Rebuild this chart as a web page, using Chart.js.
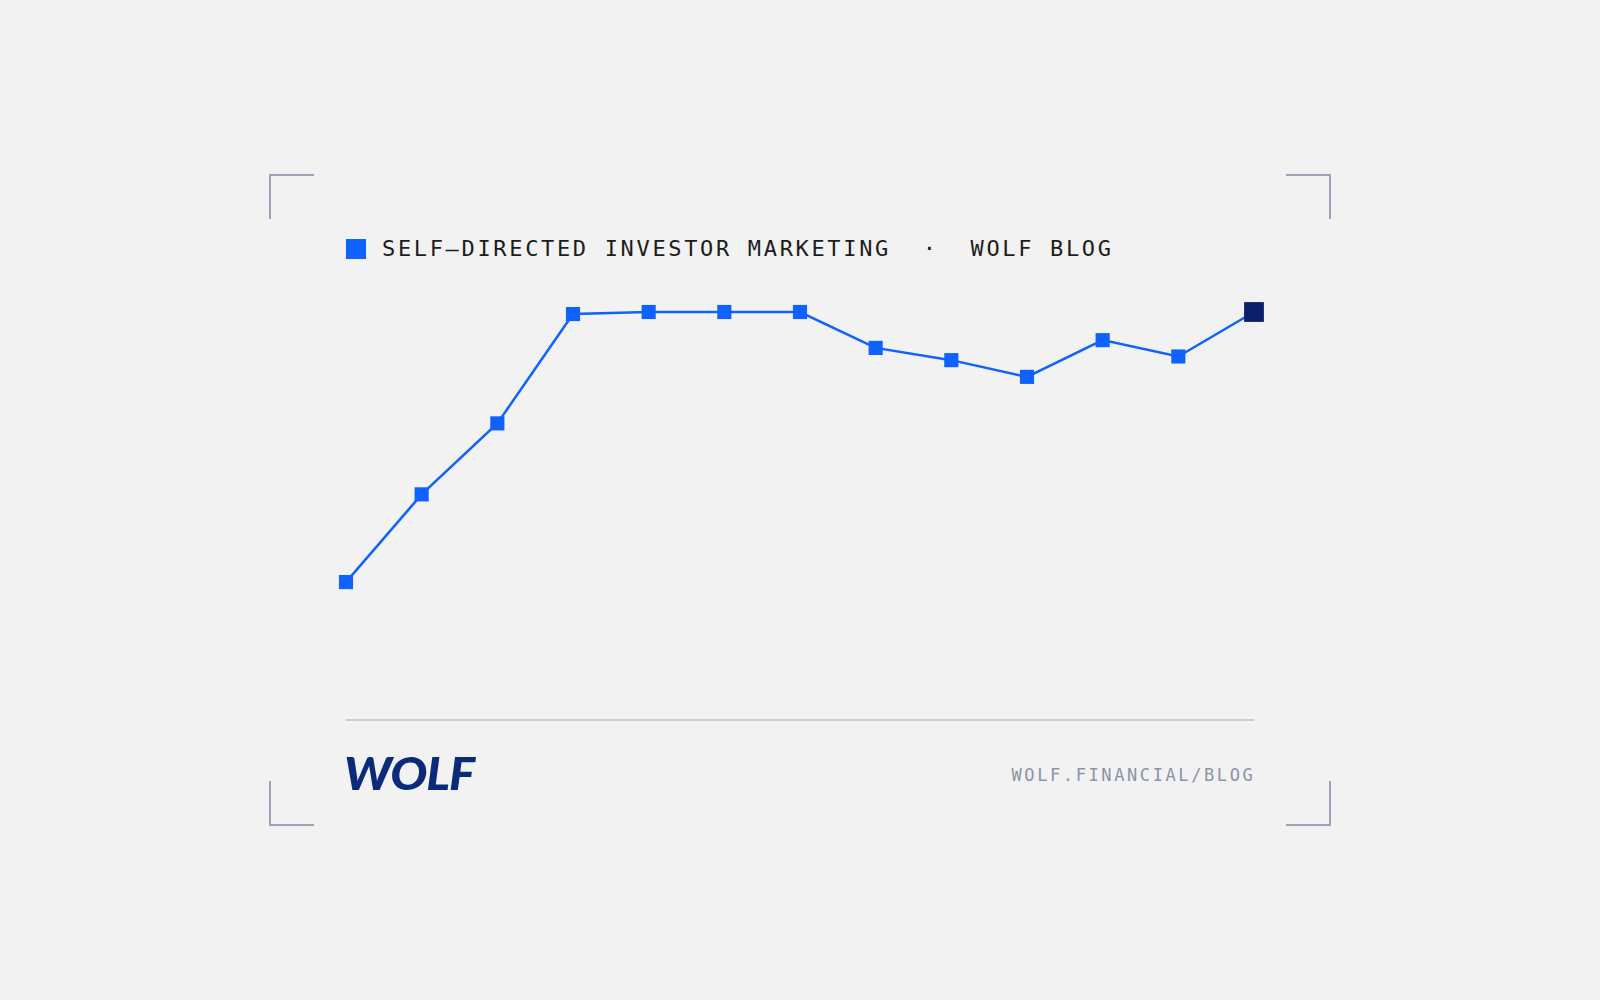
<!DOCTYPE html>
<html>
<head>
<meta charset="utf-8">
<script src="https://cdn.jsdelivr.net/npm/chart.js@4/dist/chart.umd.min.js"></script>
<style>
  html, body { margin: 0; padding: 0; background: #f2f2f2; width: 1600px; height: 1000px; overflow: hidden; }
  .abs { position: absolute; }
  .corner { position: absolute; width: 45px; height: 45px; box-sizing: border-box; border: 0 solid #9ba4b4; }
  #title { left: 382px; top: 238.2px; font-family: "DejaVu Sans Mono", "Liberation Mono", monospace; font-size: 22px; line-height: 22px; letter-spacing: 2.66px; color: #1c1c1c; white-space: pre; }
  #swatch { left: 346px; top: 239px; width: 20px; height: 20px; background: #0f62fe; }
  #divider { left: 346px; top: 719px; width: 908px; height: 2px; background: #c8ccd9; }
  #url { left: 1011.5px; top: 767px; font-family: "DejaVu Sans Mono", "Liberation Mono", monospace; font-size: 17px; line-height: 17px; letter-spacing: 2.6px; color: #8b93a7; white-space: pre; }
  #logo { left: 344px; top: 751px; font-family: "Lato", "Roboto", sans-serif; font-weight: 900; font-style: italic; font-size: 45px; line-height: 45px; color: #0b2a7a; white-space: pre; transform-origin: 0 0; letter-spacing: -1px; }
  #chartBox { left: 316px; top: 282px; width: 968px; height: 468px; }
</style>
</head>
<body>
<div class="corner" style="left:269px; top:174px; border-top-width:2px; border-left-width:2px;"></div>
<div class="corner" style="left:1286px; top:174px; border-top-width:2px; border-right-width:2px;"></div>
<div class="corner" style="left:269px; top:781px; border-bottom-width:2px; border-left-width:2px;"></div>
<div class="corner" style="left:1286px; top:781px; border-bottom-width:2px; border-right-width:2px;"></div>

<div id="swatch" class="abs"></div>
<div id="title" class="abs">SELF–DIRECTED INVESTOR MARKETING  ·  WOLF BLOG</div>

<div id="chartBox" class="abs"><canvas id="c"></canvas></div>

<div id="divider" class="abs"></div>
<div id="logo" class="abs">WOLF</div>
<div id="url" class="abs">WOLF.FINANCIAL/BLOG</div>

<script>
// ---- data ----
const periods = ["P1","P2","P3","P4","P5","P6","P7","P8","P9","P10","P11","P12","P13"];
const interest = [33.8, 55.3, 72.7, 99.5, 100, 100, 100, 91.2, 88.2, 84.1, 93.1, 89.1, 100];
const seriesName = "Self-directed investor marketing";
const yMin = 0;
const yMax = 100;

const lineBlue = "#0f62fe";
const lastNavy = "#0a1f6e";
const lastIdx = interest.length - 1;

new Chart(document.getElementById("c"), {
  type: "line",
  data: {
    labels: periods,
    datasets: [{
      label: seriesName,
      data: interest,
      borderColor: lineBlue,
      borderWidth: 2.5,
      tension: 0,
      clip: false,
      pointStyle: "rect",
      pointRadius: interest.map((v, i) => i === lastIdx ? 14 : 10),
      pointBackgroundColor: interest.map((v, i) => i === lastIdx ? lastNavy : lineBlue),
      pointBorderColor: interest.map((v, i) => i === lastIdx ? lastNavy : lineBlue),
      pointBorderWidth: 0
    }]
  },
  options: {
    responsive: true,
    maintainAspectRatio: false,
    animation: false,
    layout: { padding: { left: 30, right: 30, top: 30, bottom: 30 } },
    plugins: { legend: { display: false }, tooltip: { enabled: false }, title: { display: false } },
    scales: {
      x: { display: false, offset: false },
      y: { display: false, min: yMin, max: yMax }
    }
  }
});

// fit logo width to reference (~127px)
const logo = document.getElementById("logo");
const w = logo.getBoundingClientRect().width;
if (w > 0) { logo.style.transform = "scaleX(" + (130 / w) + ")"; }
</script>
</body>
</html>
